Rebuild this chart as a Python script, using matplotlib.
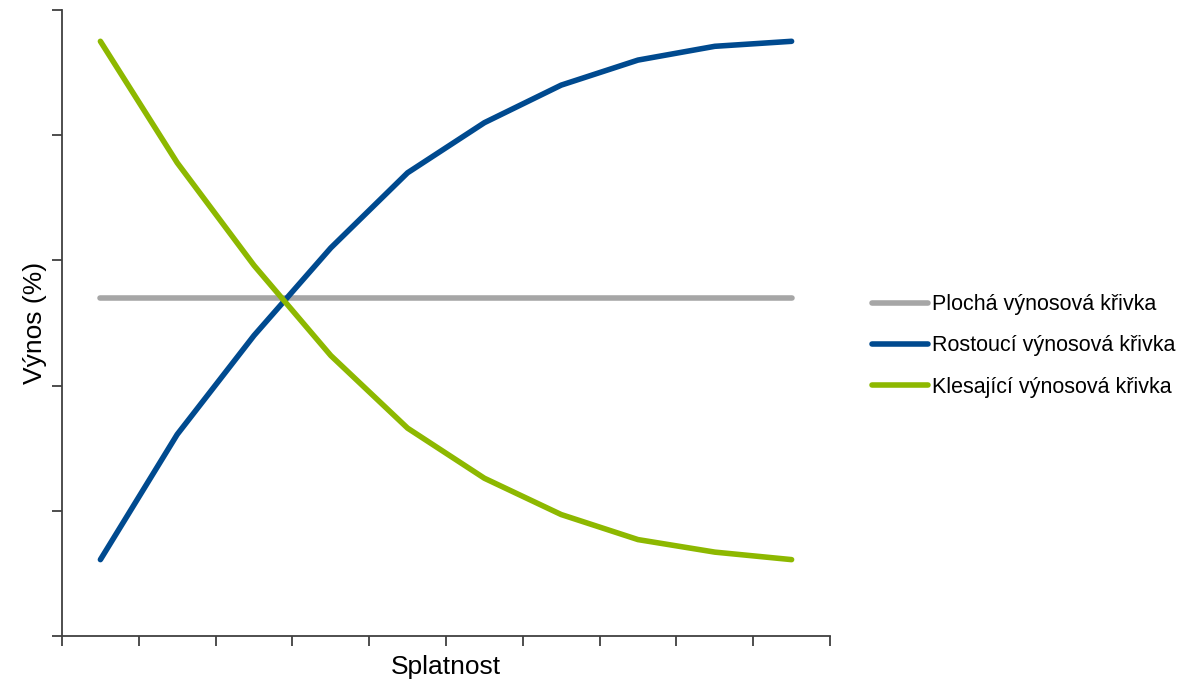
import numpy as np
import matplotlib.pyplot as plt

plt.rcParams['font.family'] = ['Liberation Sans', 'DejaVu Sans']

# Data (arbitrary yield units, 10 maturities)
splatnost = np.arange(10)
plocha = [2.70] * 10
rostouci = [0.61, 1.61, 2.40, 3.10, 3.70, 4.10, 4.40, 4.60, 4.71, 4.75]
klesajici = [4.75, 3.78, 2.96, 2.24, 1.66, 1.26, 0.97, 0.77, 0.67, 0.61]

labels = ['Plochá výnosová křivka', 'Rostoucí výnosová křivka', 'Klesající výnosová křivka']
colors = ['#A6A6A6', '#004A8F', '#8DB800']

fig = plt.figure(figsize=(11.99, 6.83), dpi=100)
ax = fig.add_axes([62 / 1199, 47 / 683, (830 - 62) / 1199, (636 - 10) / 683])

for vals, lab, col in zip([plocha, rostouci, klesajici], labels, colors):
    ax.plot(splatnost, vals, color=col, lw=4, label=lab,
            solid_capstyle='round', solid_joinstyle='round')

ax.set_xlim(-0.5, 9.5)
ax.set_ylim(0, 5)
ax.set_xticks(np.arange(-0.5, 10, 1))
ax.set_yticks(np.arange(0, 6, 1))
ax.set_xticklabels([])
ax.set_yticklabels([])
ax.tick_params(length=7, width=1.3, color='#404040', direction='out')

for s in ['top', 'right']:
    ax.spines[s].set_visible(False)
for s in ['left', 'bottom']:
    ax.spines[s].set_color('#404040')
    ax.spines[s].set_linewidth(1.3)

ax.set_xlabel('Splatnost', fontsize=19, labelpad=3)
ax.set_ylabel('Výnos (%)', fontsize=19, labelpad=0)

fig.legend(loc='center left', bbox_to_anchor=(872 / 1199, 1 - 346 / 683),
           frameon=False, fontsize=15.5, handlelength=2.6, handletextpad=0.2,
           labelspacing=0.95, borderpad=0, borderaxespad=0)

fig.savefig('out.png', dpi=100)
